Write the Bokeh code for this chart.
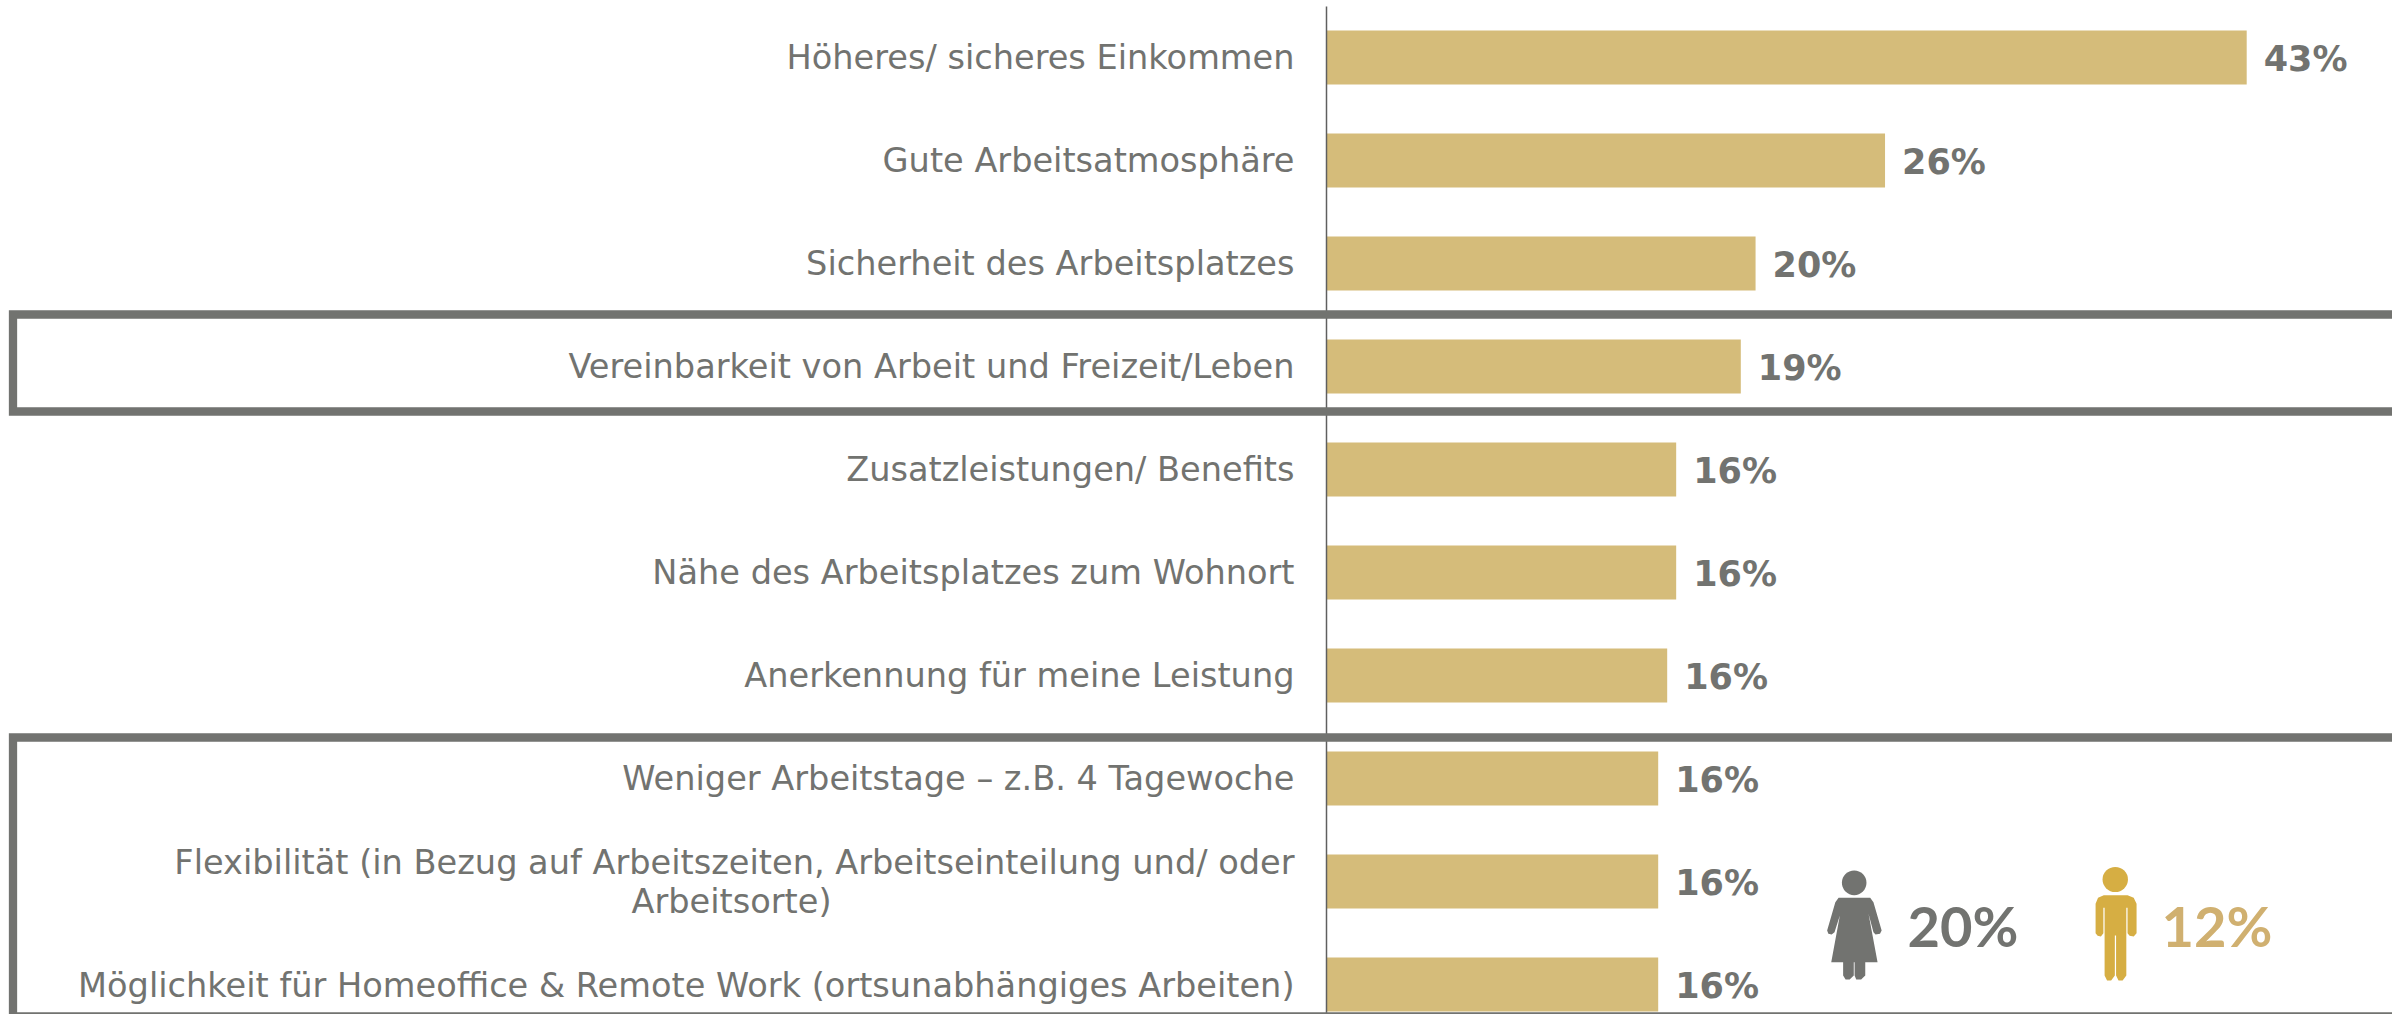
from bokeh.plotting import figure
from bokeh.models import Range1d, ColumnDataSource
from bokeh.core.properties import value
from bokeh.embed import file_html
from bokeh.resources import INLINE

categories = ["Höheres/ sicheres Einkommen", "Gute Arbeitsatmosphäre", "Sicherheit des Arbeitsplatzes",
              "Vereinbarkeit von Arbeit und Freizeit/Leben", "Zusatzleistungen/ Benefits",
              "Nähe des Arbeitsplatzes zum Wohnort", "Anerkennung für meine Leistung",
              "Weniger Arbeitstage – z.B. 4 Tagewoche",
              "Flexibilität (in Bezug auf Arbeitszeiten, Arbeitseinteilung und/ oder",
              "Möglichkeit für Homeoffice & Remote Work (ortsunabhängiges Arbeiten)"]
extra_line = "Arbeitsorte)"
values = [43.0, 26.1, 20.05, 19.36, 16.34, 16.34, 15.92, 15.5, 15.5, 15.5]
labels = ["43%", "26%", "20%", "19%", "16%", "16%", "16%", "16%", "16%", "16%"]
women, men = "20%", "12%"

GREY = "#727370"; BAR = "#D5BC7A"; GOLD = "#D6AE43"; TAN = "#D0B070"
X0, PX = 1326.0, 21.4
Y0, DY = 57.0, 103.0
def xv(px): return (px - X0) / PX
def yv(py): return (py - Y0) / DY

p = figure(width=2392, height=1014, output_backend="svg", toolbar_location=None,
           x_range=Range1d(xv(0), xv(2392)), y_range=Range1d(yv(1014), yv(0)),
           min_border=0, outline_line_color=None, background_fill_color="white")
p.axis.visible = False
p.grid.visible = False

rows = list(range(len(values)))
src = ColumnDataSource(dict(y=rows, v=values, cat=categories, lab=labels))
p.hbar(y="y", left=0, right="v", height=54 / DY, source=src, fill_color=BAR, line_color=None)
p.line([0, 0], [yv(6), yv(1014)], line_color="#5f5f5f", line_width=1.5)

# highlight frames
def frame(top, bottom):
    xs = [xv(2400), xv(12.5), xv(12.5), xv(2400)]
    ys = [yv(top), yv(top), yv(bottom), yv(bottom)]
    p.line(xs, ys, line_color=GREY, line_width=8.3, line_join="miter")
frame(314, 411)
frame(737, 1016)

FONT = value("DejaVu Sans")
lab_y = [r for r in rows]
lab_y[8] = yv(862)
lab_y[9] = yv(985)
lab_x = [xv(1294)] * len(rows)
p.text(lab_x, lab_y, text=categories, text_align="right", text_baseline="middle",
       text_color=GREY, text_font=FONT, text_font_size="33.6px")
p.text([xv(731)], [yv(901)], text=[extra_line], text_align="center", text_baseline="middle",
       text_color=GREY, text_font=FONT, text_font_size="33.6px")

p.text([v + 17 / PX for v in values], [r + 1.5 / DY for r in rows], text=labels, text_baseline="middle",
       text_color=GREY, text_font=FONT, text_font_style="bold", text_font_size="35px")

p.text([xv(1907)], [yv(925)], text=[women], text_baseline="middle", text_color=GREY,
       text_font=value("Lato"), text_font_style="bold", text_font_size="56px")
p.text([xv(2161)], [yv(925)], text=[men], text_baseline="middle", text_color=TAN,
       text_font=value("Lato"), text_font_style="bold", text_font_size="56px")

# icons, outlined in the zoomed crop's coordinates
def ix(z): return xv(1750 + z / 2.44)
def iy(z): return yv(820 + z / 3.0)

p.ellipse(ix(253), iy(187), width=60 / 2.44 / PX, height=74 / 3 / DY, fill_color=GREY, line_color=None)
woman = [(215,232),(292,232),(300,245),(320,330),(316,340),(305,342),(300,335),(288,280),(310,425),
         (280,425),(280,465),(270,477),(258,477),(254,465),(254,425),(252,425),(252,465),(242,477),
         (232,477),(226,465),(226,425),(197,425),(218,285),(205,335),(198,342),(190,340),(187,330),(207,245)]
p.patch([ix(a) for a, b in woman], [iy(b) for a, b in woman], fill_color=GREY, line_color=None)

p.ellipse(ix(890), iy(177), width=62 / 2.44 / PX, height=76 / 3 / DY, fill_color=GOLD, line_color=None)
man = [(862,224),(920,224),(935,232),(942,250),(942,338),(935,348),(925,346),(920,338),(920,262),(917,262),
       (917,465),(908,480),(898,480),(892,465),(892,345),(889,345),(889,465),(880,480),(870,480),(864,465),
       (864,262),(861,262),(861,338),(855,348),(847,346),(842,338),(842,250),(848,232)]
p.patch([ix(a) for a, b in man], [iy(b) for a, b in man], fill_color=GOLD, line_color=None)

open("out.html", "w").write(file_html(p, INLINE))
